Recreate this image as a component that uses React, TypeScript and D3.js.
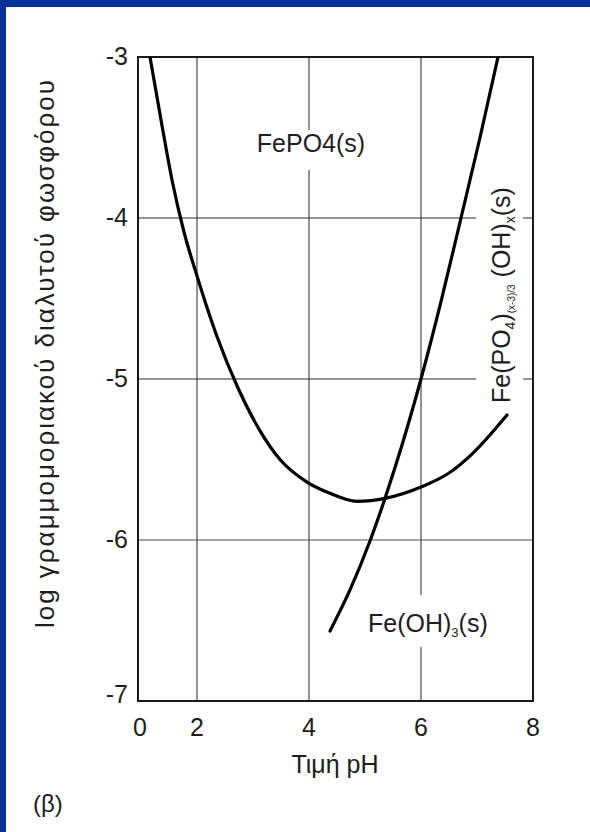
import React from "react";
import * as d3 from "d3";

const phTicks = [0, 2, 4, 6, 8];
const logTicks = [-3, -4, -5, -6, -7];
const vGrid = [2, 4, 6];
const hGrid = [-4, -5, -6];

// FePO4(s) / Fe(PO4)(OH)x(s) boundary (U-shaped)
const fePO4pH = [0.407, 0.78, 1.153, 1.559, 2.0, 2.357, 2.732, 3.107, 3.482, 3.964, 4.375, 4.857, 5.375, 6.0, 6.5, 6.929, 7.536];
const fePO4Log = [-3.0, -3.391, -3.764, -4.087, -4.36, -4.736, -5.056, -5.311, -5.5, -5.64, -5.71, -5.76, -5.74, -5.671, -5.584, -5.46, -5.224];

// Fe(OH)3(s) boundary
const feOHpH = [4.375, 4.732, 5.089, 5.536, 6.0, 6.357, 6.714, 7.054, 7.375];
const feOHLog = [-6.565, -6.31, -6.006, -5.55, -5.0, -4.52, -4.0, -3.5, -3.0];

const FONT = "'Liberation Sans', Arial, Helvetica, sans-serif";
const INK = "#1e1e1e";

export default function App() {
  const W = 590, H = 832;
  const x = d3.scaleLinear().domain([0, 2, 8]).range([138, 197, 533]);
  const y = d3.scaleLinear().domain([-3, -7]).range([57, 701]);

  const line = d3
    .line<[number, number]>()
    .x((d) => x(d[0]))
    .y((d) => y(d[1]))
    .curve(d3.curveMonotoneX);

  const c1 = line(fePO4pH.map((p, i) => [p, fePO4Log[i]] as [number, number])) || "";
  const c2 = line(feOHpH.map((p, i) => [p, feOHLog[i]] as [number, number])) || "";

  const x0 = x(0), x1 = x(8), y0 = y(-3), y1 = y(-7);

  return (
    <svg
      width={W}
      height={H}
      style={{ position: "absolute", left: 0, top: 0, background: "#fff" }}
      fontFamily={FONT}
    >
      <rect x={0} y={0} width={W} height={H} fill="#fff" />
      <rect x={0} y={0} width={W} height={7} fill="#003399" />
      <rect x={0} y={0} width={6} height={H} fill="#003399" />

      <defs>
        <clipPath id="plot">
          <rect x={x0} y={y0} width={x1 - x0} height={y1 - y0} />
        </clipPath>
      </defs>

      {/* grid */}
      {vGrid.map((v) => (
        <line key={"v" + v} x1={x(v)} x2={x(v)} y1={y0} y2={y1} stroke="#3a3a3a" strokeWidth={1.1} />
      ))}
      {hGrid.map((v) => (
        <line
          key={"h" + v}
          x1={x0}
          x2={x1}
          y1={y(v)}
          y2={y(v)}
          stroke={v === -6 ? "#7d3a4c" : "#2a2a2a"}
          strokeWidth={1.1}
        />
      ))}

      {/* label knockouts */}
      <rect x={252} y={130} width={120} height={40} fill="#fff" />
      <rect x={476} y={175} width={47} height={233} fill="#fff" />
      <rect x={364} y={595} width={134} height={52} fill="#fff" />

      {/* frame */}
      <rect x={x0} y={y0} width={x1 - x0} height={y1 - y0} fill="none" stroke="#1a1a1a" strokeWidth={2} />

      {/* curves */}
      <g clipPath="url(#plot)" fill="none" stroke="#000" strokeWidth={3.2} strokeLinecap="round">
        <path d={c1} />
        <path d={c2} />
      </g>

      {/* tick labels */}
      {logTicks.map((v) => (
        <text key={"yl" + v} x={128} y={y(v) + 8 - (v === -7 ? 6 : 0)} textAnchor="end" fontSize={25} fill={INK}>
          {v}
        </text>
      ))}
      {phTicks.map((v) => (
        <text key={"xl" + v} x={x(v) + (v === 0 ? 2 : 0)} y={736} textAnchor="middle" fontSize={25} fill={INK}>
          {v}
        </text>
      ))}

      {/* axis titles */}
      <text x={335} y={773} textAnchor="middle" fontSize={25} fill={INK}>
        Τιμή pH
      </text>
      <text
        transform="translate(54,628) rotate(-90)"
        fontSize={26}
        fill={INK}
        textLength={548}
        lengthAdjust="spacing"
      >
        log γραμμομοριακού διαλυτού φωσφόρου
      </text>

      {/* region labels */}
      <text x={311} y={152} textAnchor="middle" fontSize={25} fill={INK}>
        FePO4(s)
      </text>
      <text x={368} y={632} fontSize={25} fill={INK}>
        Fe(OH)
        <tspan fontSize={13} dy={5}>3</tspan>
        <tspan dy={-5}>(s)</tspan>
      </text>
      <text transform="translate(510,403) rotate(-90)" fontSize={25} fill={INK}>
        Fe(PO
        <tspan fontSize={14} dy={5}>4</tspan>
        <tspan dy={-5}>)</tspan>
        <tspan fontSize={10} dy={5}>(x-3)/3</tspan>
        <tspan dy={-5}> (OH)</tspan>
        <tspan fontSize={14} dy={5}>x</tspan>
        <tspan dy={-5}>(s)</tspan>
      </text>

      <text x={33} y={812} fontSize={24} fill={INK}>
        (β)
      </text>
    </svg>
  );
}
